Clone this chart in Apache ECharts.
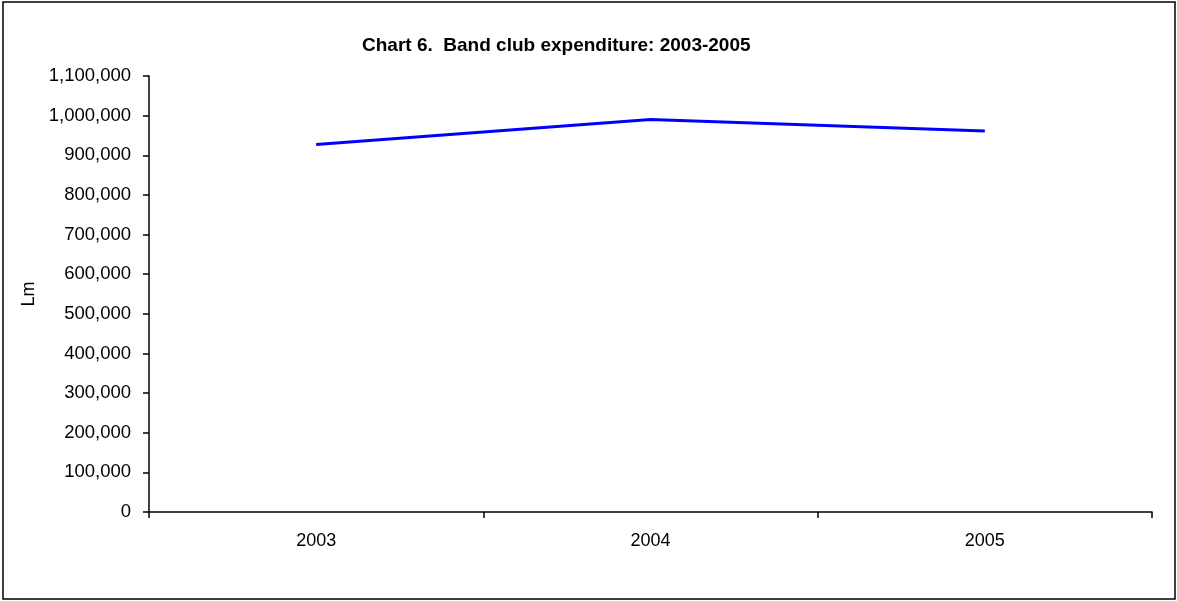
<!DOCTYPE html>
<html>
<head>
<meta charset="utf-8">
<script src="https://cdn.jsdelivr.net/npm/echarts@6/dist/echarts.min.js"></script>
<style>html,body{margin:0;padding:0;background:#fff;}#c{width:1177px;height:601px;}</style>
</head>
<body>
<div id="c"></div>
<script>
const categories = ['2003', '2004', '2005'];
const expenditure = [927000, 990000, 961000];
const titleText = 'Chart 6.  Band club expenditure: 2003-2005';
const yAxisName = 'Lm';

const chart = echarts.init(document.getElementById('c'), null, {renderer: 'canvas'});
const font = 'Liberation Sans, Arial, sans-serif';
chart.setOption({
  animation: false,
  backgroundColor: '#fff',
  title: {
    text: titleText,
    left: 357, top: 31,
    textStyle: {fontFamily: font, fontSize: 19, fontWeight: 'bold', color: '#000'}
  },
  graphic: [{
    type: 'rect', silent: true, z: 100,
    shape: {x: 3, y: 2, width: 1172, height: 597},
    style: {fill: 'none', stroke: '#000', lineWidth: 1.5}
  }],
  grid: {left: 149, right: 25, top: 76, bottom: 89, containLabel: false},
  xAxis: {
    type: 'category', data: categories, boundaryGap: true,
    axisLine: {lineStyle: {color: '#000', width: 1.5}},
    axisTick: {show: true, length: 6, lineStyle: {color: '#000', width: 1.5}},
    axisLabel: {color: '#000', fontFamily: font, fontSize: 18, margin: 20},
    splitLine: {show: false}
  },
  yAxis: {
    type: 'value', min: 0, max: 1100000, interval: 100000,
    name: yAxisName, nameLocation: 'middle', nameGap: 110, nameRotate: 90,
    nameTextStyle: {color: '#000', fontFamily: font, fontSize: 18},
    axisLine: {show: true, lineStyle: {color: '#000', width: 1.5}},
    axisTick: {show: true, length: 6, lineStyle: {color: '#000', width: 1.5}},
    axisLabel: {color: '#000', fontFamily: font, fontSize: 18.5, margin: 18,
      formatter: v => v.toLocaleString('en-US')},
    splitLine: {show: false}
  },
  series: [{
    type: 'line', data: expenditure, showSymbol: false, symbol: 'none',
    lineStyle: {color: '#0000FF', width: 3}, itemStyle: {color: '#0000FF'}
  }]
});
</script>
</body>
</html>
